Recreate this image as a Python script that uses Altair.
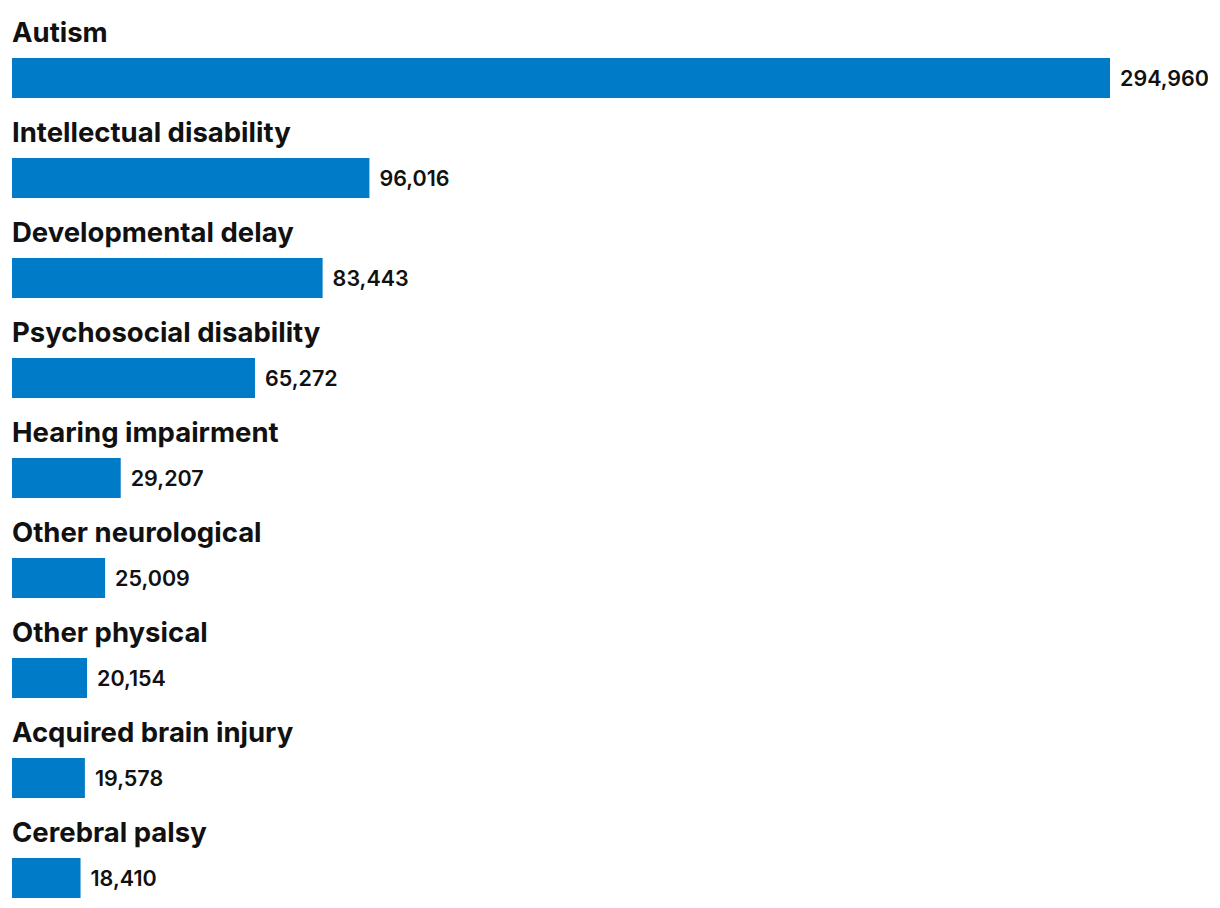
import altair as alt
import pandas as pd

categories = [
    "Autism", "Intellectual disability", "Developmental delay",
    "Psychosocial disability", "Hearing impairment", "Other neurological",
    "Other physical", "Acquired brain injury", "Cerebral palsy",
]
values = [294960, 96016, 83443, 65272, 29207, 25009, 20154, 19578, 18410]

df = pd.DataFrame({"category": categories, "value": values})
df["label"] = df["value"].map(lambda v: f"{v:,}")

FONT = "Inter"
y_enc = alt.Y("category:N", sort=categories, axis=None,
              scale=alt.Scale(paddingInner=0, paddingOuter=0))
x_scale = alt.Scale(domain=[0, 294960], range=[4, 1102])

base = alt.Chart(df)

bars = base.mark_bar(color="#007BC7", size=40, yOffset=20).encode(
    y=y_enc,
    x=alt.X("value:Q", scale=x_scale, axis=None),
)

cat_text = base.mark_text(
    align="left", baseline="alphabetic", dy=-16, font=FONT,
    fontSize=27.5, fontWeight=700, color="#111111",
).encode(y=y_enc, x=alt.value(4), text="category:N")

val_text = base.mark_text(
    align="left", baseline="middle", dx=10, dy=22, font=FONT,
    fontSize=21.5, fontWeight=600, color="#111111",
).encode(y=y_enc, x=alt.X("value:Q", scale=x_scale), text="label:N")

chart = alt.layer(bars, cat_text, val_text).properties(
    width=1200, height=900, padding=0, background="white",
    autosize=alt.AutoSizeParams(type="none"),
).configure_view(stroke=None, strokeWidth=0)

chart.save("out.html", embed_options={"renderer": "svg", "actions": False})
